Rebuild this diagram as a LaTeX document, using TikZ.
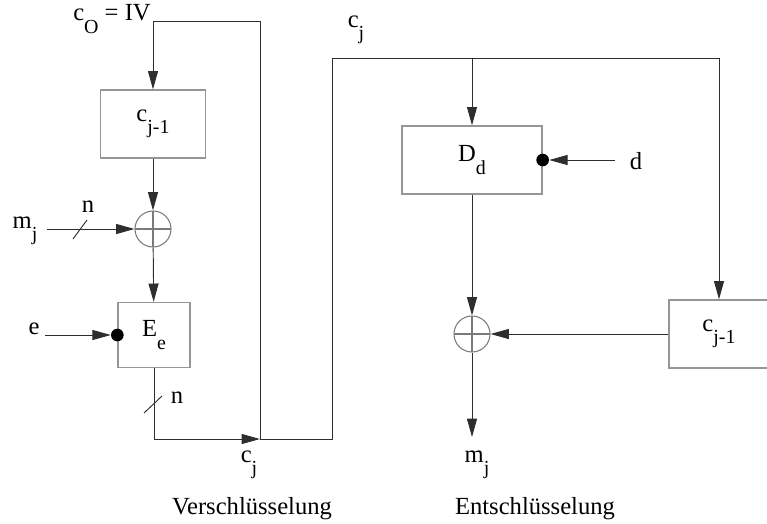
\documentclass[tikz,border=0pt]{standalone}
\usepackage{fontspec}
\setmainfont{Liberation Serif}
\usetikzlibrary{arrows.meta,positioning}
\definecolor{LineGray}{HTML}{2E2E2E}
\definecolor{BoxGray}{HTML}{959595}
\definecolor{XorGray}{HTML}{7A7A7A}
\newcommand{\lowsub}[1]{\raisebox{-0.5em}{\fontsize{17}{17}\selectfont #1}}

\begin{document}
\begin{tikzpicture}[x=0.03cm, y=-0.03cm,
  font=\fontsize{21}{25}\selectfont,
  box/.style={draw=BoxGray, line width=1.1pt, inner sep=0pt, align=center},
  xor/.style={circle, draw=XorGray, line width=0.9pt, minimum size=1.08cm, inner sep=0pt,
    path picture={\draw[XorGray, line width=0.9pt] (path picture bounding box.north) -- (path picture bounding box.south)
      (path picture bounding box.west) -- (path picture bounding box.east);}},
  dot/.style={circle, fill=black, inner sep=0pt, minimum size=0.38cm},
  arr/.style={-{Triangle[length=0.55cm, width=0.3cm]}, line width=0.8pt, LineGray},
  ln/.style={line width=0.8pt, LineGray}
]
\useasboundingbox (0,0) rectangle (767,523);
\node[box, minimum width=3.15cm, minimum height=2.04cm] (cprevL) at (153,124) {c\lowsub{j-1}};
\node[xor] (xorL) at (153,229) {};
\node[box, minimum width=2.16cm, minimum height=1.95cm] (Ee) at (154,335) {E\lowsub{e}};
\node[box, minimum width=4.2cm, minimum height=2.04cm] (Dd) at (472,160) {D\lowsub{d}};
\node[box, minimum width=3.0cm, minimum height=2.04cm] (cprevR) at (719,334) {c\lowsub{j-1}};
\node[xor] (xorR) at (472,334) {};
\node[dot] (dotE) at (Ee.west) {};
\node[dot] (dotD) at (Dd.east) {};
\node (ivlab) at (112,19) {c\lowsub{O} = IV};
\node (mjL) at (25,231) {m\lowsub{j}};
\node (eL) at (34,329) {e};
\node (dL) at (636,161) {d};
\node (nA) at (88,207) {n};
\node (nB) at (177,398) {n};
\node (cjB) at (249,465) {c\lowsub{j}};
\node (cjT) at (356,30) {c\lowsub{j}};
\node (mjR) at (477,465) {m\lowsub{j}};
\node (capL) at (252,509) {Verschlüsselung};
\node (capR) at (535,509) {Entschlüsselung};
\coordinate (ivpt) at (153,21);
\coordinate (mergeB) at (260,439);
\coordinate (eBot) at (154,439);
\coordinate (rb) at (332,439);
\coordinate (rt) at (719,58);
\coordinate (dtop) at (472,58);
\coordinate (mIn) at (47,229);
\coordinate (eIn) at (45,335);
\coordinate (dIn) at (615,160);
\coordinate (mOut) at (472,437);
\draw[arr] (mergeB) |- (ivpt) -- (cprevL);
\draw[arr] (cprevL) -- (xorL);
\draw[arr] (mIn) -- (xorL);
\draw[arr] (xorL) -- (Ee);
\draw[arr] (eIn) -- (dotE);
\draw[ln] (Ee) -- (eBot);
\draw[arr] (eBot) -- (mergeB);
\draw[arr] (mergeB) -- (rb) |- (rt) -- (cprevR);
\draw[arr] (dtop) -- (Dd);
\draw[arr] (dIn) -- (dotD);
\draw[arr] (Dd) -- (xorR);
\draw[arr] (cprevR) -- (xorR);
\draw[arr] (xorR) -- (mOut);
\draw[ln] (mIn) ++(26,10) -- ++(14,-19);
\draw[ln] (eBot) ++(-10,-26) -- ++(18,-17);
\end{tikzpicture}
\end{document}
